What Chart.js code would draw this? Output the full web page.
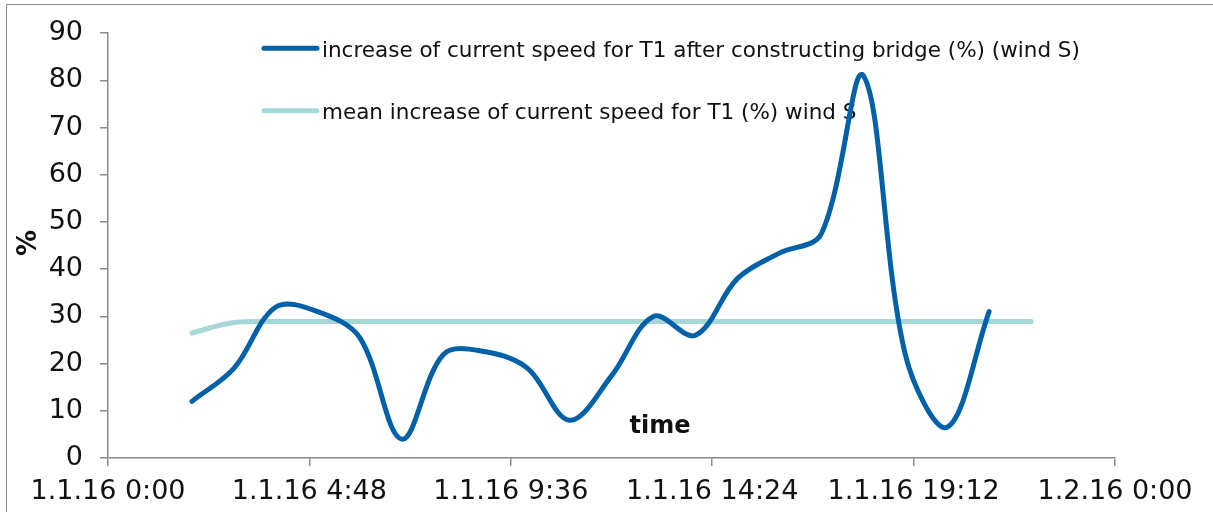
<!DOCTYPE html>
<html>
<head>
<meta charset="utf-8">
<script src="https://cdn.jsdelivr.net/npm/chart.js@4.4.1/dist/chart.umd.min.js"></script>
<style>
  body { margin: 0; background: #fff; overflow: hidden; }
  #wrap { position: relative; width: 1213px; height: 512px; }
  #frame { position: absolute; left: 6px; top: 4px; width: 1300px; height: 600px;
           border-left: 1.5px solid #8c8c8c; border-top: 1.5px solid #8c8c8c; pointer-events: none; }
</style>
</head>
<body>
<div id="wrap">
  <canvas id="myChart" width="1213" height="512"></canvas>
  <div id="frame"></div>
</div>
<script>
// hourly readings, 1.1.16
const hours = [2, 3, 4, 5, 6, 7, 8, 9, 10, 11, 12, 13, 14, 15, 16, 17, 18, 19, 20, 21];
const speedIncrease = [12, 19, 32, 31, 25.5, 4, 22, 22.5, 19, 8, 17.4, 30, 26, 38, 43.4, 47.5, 81, 22, 6.5, 31];
const meanHours = [2, 3, 4, 5, 6, 7, 8, 9, 10, 11, 12, 13, 14, 15, 16, 17, 18, 19, 20, 21, 22];
const meanIncrease = [26.5, 28.7, 28.9, 28.9, 28.9, 28.9, 28.9, 28.9, 28.9, 28.9, 28.9, 28.9, 28.9, 28.9, 28.9, 28.9, 28.9, 28.9, 28.9, 28.9, 28.9];
const tickHours = [0, 4.8, 9.6, 14.4, 19.2, 24];
const tickLabels = ['1.1.16 0:00', '1.1.16 4:48', '1.1.16 9:36', '1.1.16 14:24', '1.1.16 19:12', '1.2.16 0:00'];
const seriesLabels = [
    'increase of current speed for T1 after constructing bridge (%) (wind S)',
    'mean increase of current speed for T1 (%) wind S'
];

const FONT = '"DejaVu Sans", Verdana, sans-serif';
const AXIS_GREY = '#8a8a8a';

function toPoints(xs, ys) {
    return xs.map((x, i) => ({ x: x, y: ys[i] }));
}

// legend and axis titles drawn by hand
const extraText = {
    id: 'extraText',
    beforeDatasetsDraw(chart) {
        const ctx = chart.ctx;
        ctx.save();
        chart.data.datasets.forEach((ds, i) => {
            const y = 48.3 + i * 62.5;
            ctx.strokeStyle = ds.borderColor;
            ctx.lineWidth = 5;
            ctx.lineCap = 'round';
            ctx.beginPath();
            ctx.moveTo(264, y);
            ctx.lineTo(317, y);
            ctx.stroke();
            ctx.fillStyle = '#111';
            ctx.font = '21.5px ' + FONT;
            ctx.textBaseline = 'alphabetic';
            ctx.textAlign = 'left';
            ctx.fillText(ds.label, 322, y + 8.3);
        });

        ctx.font = 'bold 24px ' + FONT;
        ctx.textAlign = 'center';
        ctx.textBaseline = 'middle';
        ctx.fillText('time', 660, 427);

        ctx.translate(29, 243);
        ctx.rotate(-Math.PI / 2);
        ctx.font = 'bold 26px ' + FONT;
        ctx.fillText('%', 0, 0);
        ctx.restore();
    }
};

const data = {
    datasets: [
    {
        label: seriesLabels[0],
        data: toPoints(hours, speedIncrease),
        borderColor: '#0060a8',
        borderWidth: 5,
        borderCapStyle: 'round',
        tension: 0.35,
        pointRadius: 0,
        fill: false
    },
    {
        label: seriesLabels[1],
        data: toPoints(meanHours, meanIncrease),
        borderColor: '#a6d7d7',
        borderWidth: 5,
        borderCapStyle: 'round',
        tension: 0.35,
        pointRadius: 0,
        fill: false
    }
    ]
};

const config = {
    type: 'line',
    data: data,
    options: {
        responsive: false,
        animation: false,
        devicePixelRatio: 1,
        layout: { padding: { top: 30, right: 98, bottom: 0, left: 0 } },
        plugins: {
            legend: { display: false },
            tooltip: { enabled: false }
        },
        scales: {
            x: {
                type: 'linear',
                min: 0,
                max: 24,
                afterBuildTicks: scale => { scale.ticks = tickHours.map(v => ({ value: v })); },
                afterFit: scale => { scale.height = 54; },
                ticks: {
                    callback: (v, i) => tickLabels[i],
                    maxRotation: 0,
                    autoSkip: false,
                    padding: 10,
                    color: '#111',
                    font: { family: FONT, size: 27 }
                },
                grid: { drawOnChartArea: false, drawTicks: true, tickLength: 8, color: AXIS_GREY, lineWidth: 1.5 },
                border: { color: AXIS_GREY, width: 1.5 }
            },
            y: {
                min: 0,
                max: 90,
                afterFit: scale => { scale.width = 108; },
                ticks: {
                    stepSize: 10,
                    padding: 17,
                    color: '#111',
                    font: { family: FONT, size: 27 }
                },
                grid: { drawOnChartArea: false, drawTicks: true, tickLength: 8, color: AXIS_GREY, lineWidth: 1.5 },
                border: { color: AXIS_GREY, width: 1.5 }
            }
        }
    },
    plugins: [extraText]
};

window.onload = function() {
    const ctx = document.getElementById('myChart').getContext('2d');
    new Chart(ctx, config);
};
</script>
</body>
</html>
